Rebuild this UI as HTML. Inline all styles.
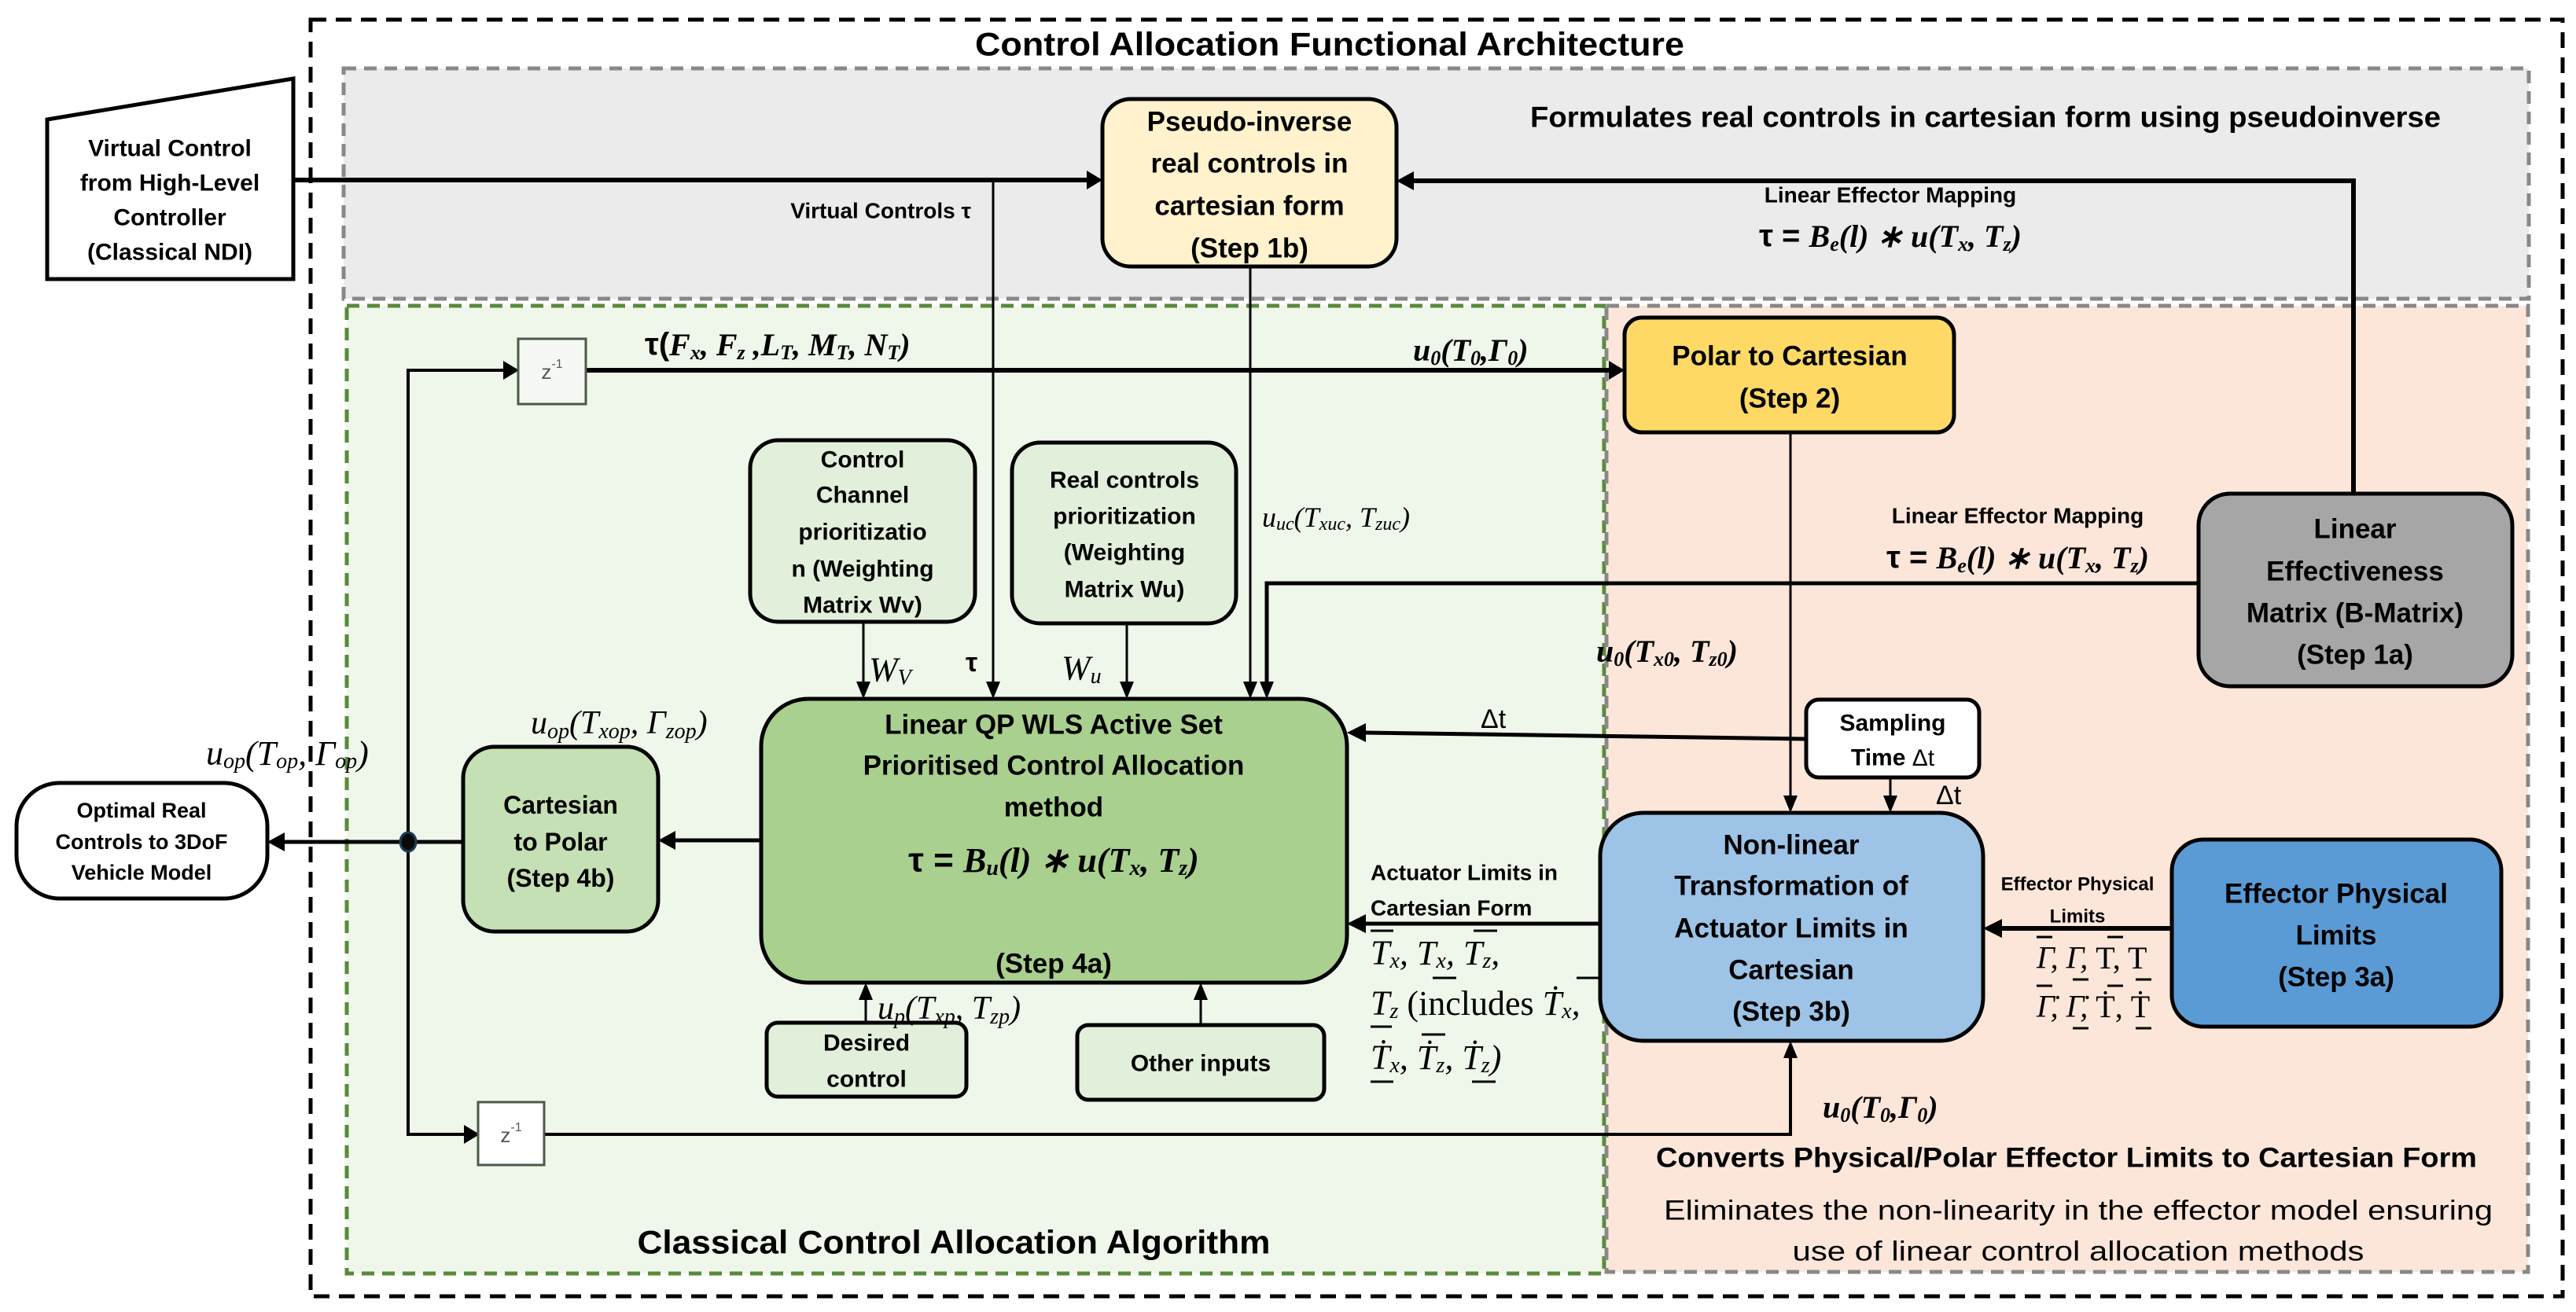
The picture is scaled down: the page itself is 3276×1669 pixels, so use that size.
<!DOCTYPE html>
<html><head><meta charset="utf-8"><style>
html,body{margin:0;padding:0;background:#fff;}
svg{display:block;}
.b{font-family:"Liberation Sans",sans-serif;font-weight:bold;fill:#000;}
.n{font-family:"Liberation Sans",sans-serif;fill:#000;}
.m{font-family:"Liberation Serif",serif;font-style:italic;fill:#000;}
.mb{font-family:"Liberation Serif",serif;font-style:italic;font-weight:bold;fill:#000;}
</style></head><body>
<svg width="3276" height="1669" viewBox="0 0 3276 1669" xmlns="http://www.w3.org/2000/svg">
<style>
.ar{fill:#000;}
</style>
<!-- regions -->
<rect x="437" y="87" width="2779" height="293" fill="#ebebeb" stroke="#888" stroke-width="5" stroke-dasharray="16,10"/>
<rect x="441" y="389" width="1599" height="1231" fill="#eff6ea" stroke="#5a8a3a" stroke-width="5" stroke-dasharray="16,10"/>
<rect x="2043" y="389" width="1172" height="1229" fill="#fce6da" stroke="#888" stroke-width="5" stroke-dasharray="16,10"/>
<rect x="395" y="25" width="2864" height="1624" fill="none" stroke="#000" stroke-width="5" stroke-dasharray="20,12"/>

<text class="b" x="1691" y="56" font-size="42" text-anchor="middle" dominant-baseline="central" textLength="902" lengthAdjust="spacingAndGlyphs">Control Allocation Functional Architecture</text>
<text class="b" x="2525" y="149" font-size="37" text-anchor="middle" dominant-baseline="central" textLength="1158" lengthAdjust="spacingAndGlyphs">Formulates real controls in cartesian form using pseudoinverse</text>

<polygon points="60,152 373,100 373,355 60,355" fill="#fff" stroke="#000" stroke-width="5"/>
<g class="b" font-size="30" text-anchor="middle" dominant-baseline="central">
<text x="216" y="189">Virtual Control</text>
<text x="216" y="233">from High-Level</text>
<text x="216" y="277">Controller</text>
<text x="216" y="321">(Classical NDI)</text>
</g>

<g stroke="#000" fill="none">
<line x1="373" y1="229" x2="1385" y2="229" stroke-width="6"/>
<line x1="1263" y1="229" x2="1263" y2="870" stroke-width="3"/>
<line x1="1590" y1="339" x2="1590" y2="870" stroke-width="3"/>
<polyline points="2993,628 2993,230 1795,230" stroke-width="6"/>
<polyline points="2796,742 1611,742 1611,870" stroke-width="5"/>
<line x1="745" y1="471" x2="2050" y2="471" stroke-width="6"/>
<polyline points="640,471 519,471 519,1443 590,1443" stroke-width="4"/>
<polyline points="692,1443 2277,1443 2277,1345" stroke-width="4"/>
<line x1="2277" y1="550" x2="2277" y2="1015" stroke-width="3"/>
<line x1="2404" y1="989" x2="2404" y2="1015" stroke-width="3"/>
<line x1="2297" y1="940" x2="1735" y2="932" stroke-width="5"/>
<line x1="2035" y1="1175" x2="1735" y2="1175" stroke-width="5"/>
<line x1="2762" y1="1181" x2="2545" y2="1181" stroke-width="6"/>
<line x1="1098" y1="791" x2="1098" y2="870" stroke-width="3"/>
<line x1="1433" y1="793" x2="1433" y2="870" stroke-width="3"/>
<line x1="1101" y1="1301" x2="1101" y2="1270" stroke-width="3"/>
<line x1="1527" y1="1304" x2="1527" y2="1270" stroke-width="3"/>
<line x1="968" y1="1069" x2="857" y2="1069" stroke-width="5"/>
<line x1="589" y1="1071" x2="360" y2="1071" stroke-width="5"/>
</g>
<g class="ar">
<polygon points="1402,229 1382,217 1382,241"/>
<polygon points="1776,230 1798,218 1798,242"/>
<polygon points="2066,471 2046,459 2046,483"/>
<polygon points="660,471 640,459 640,483"/>
<polygon points="610,1443 590,1431 590,1455"/>
<polygon points="1263,889 1254,867 1272,867"/>
<polygon points="1590,889 1581,867 1599,867"/>
<polygon points="1611,889 1602,867 1620,867"/>
<polygon points="1098,889 1089,867 1107,867"/>
<polygon points="1433,889 1424,867 1442,867"/>
<polygon points="1101,1250 1092,1272 1110,1272"/>
<polygon points="1527,1250 1518,1272 1536,1272"/>
<polygon points="2277,1034 2268,1012 2286,1012"/>
<polygon points="2404,1034 2395,1012 2413,1012"/>
<polygon points="2277,1324 2268,1346 2286,1346"/>
<polygon points="1713,932 1737,920 1737,944"/>
<polygon points="1713,1175 1737,1163 1737,1187"/>
<polygon points="2522,1181 2546,1169 2546,1193"/>
<polygon points="837,1069 859,1057 859,1081"/>
<polygon points="340,1071 362,1059 362,1083"/>
</g>
<ellipse cx="519" cy="1071" rx="10" ry="12" fill="#0a0a0a" stroke="#1f3d5a" stroke-width="3"/>

<rect x="659" y="431" width="86" height="83" fill="#f6f8f4" stroke="#4a5a44" stroke-width="3"/>
<text class="n" x="702" y="473" font-size="26" text-anchor="middle" dominant-baseline="central" style="fill:#555">z<tspan font-size="16" dy="-10">-1</tspan></text>
<rect x="608" y="1402" width="84" height="80" fill="#fff" stroke="#4a5a44" stroke-width="3"/>
<text class="n" x="650" y="1444" font-size="26" text-anchor="middle" dominant-baseline="central" style="fill:#555">z<tspan font-size="16" dy="-10">-1</tspan></text>

<rect x="1402" y="126" width="374" height="213" rx="36" fill="#fff2cc" stroke="#000" stroke-width="5"/>
<g class="b" font-size="35" text-anchor="middle" dominant-baseline="central">
<text x="1589" y="155">Pseudo-inverse</text>
<text x="1589" y="208">real controls in</text>
<text x="1589" y="262">cartesian form</text>
<text x="1589" y="316">(Step 1b)</text>
</g>
<rect x="2066" y="404" width="419" height="146" rx="22" fill="#ffd966" stroke="#000" stroke-width="5"/>
<g class="b" font-size="35" text-anchor="middle" dominant-baseline="central">
<text x="2276" y="453">Polar to Cartesian</text>
<text x="2276" y="507">(Step 2)</text>
</g>
<rect x="2796" y="628" width="399" height="245" rx="40" fill="#a6a6a6" stroke="#000" stroke-width="5"/>
<g class="b" font-size="35" text-anchor="middle" dominant-baseline="central">
<text x="2995" y="673">Linear</text>
<text x="2995" y="727">Effectiveness</text>
<text x="2995" y="780">Matrix (B-Matrix)</text>
<text x="2995" y="833">(Step 1a)</text>
</g>
<rect x="954" y="560" width="286" height="231" rx="36" fill="#e2efda" stroke="#000" stroke-width="5"/>
<g class="b" font-size="30" text-anchor="middle" dominant-baseline="central">
<text x="1097" y="585">Control</text>
<text x="1097" y="630">Channel</text>
<text x="1097" y="677">prioritizatio</text>
<text x="1097" y="724">n (Weighting</text>
<text x="1097" y="770">Matrix Wv)</text>
</g>
<rect x="1287" y="563" width="285" height="230" rx="36" fill="#e2efda" stroke="#000" stroke-width="5"/>
<g class="b" font-size="30" text-anchor="middle" dominant-baseline="central">
<text x="1430" y="611">Real controls</text>
<text x="1430" y="657">prioritization</text>
<text x="1430" y="703">(Weighting</text>
<text x="1430" y="750">Matrix Wu)</text>
</g>
<rect x="968" y="889" width="745" height="361" rx="60" fill="#a9d08e" stroke="#000" stroke-width="5"/>
<g class="b" font-size="35" text-anchor="middle" dominant-baseline="central">
<text x="1340" y="922">Linear QP WLS Active Set</text>
<text x="1340" y="974">Prioritised Control Allocation</text>
<text x="1340" y="1027">method</text>
<text x="1340" y="1226">(Step 4a)</text>
</g>
<text x="1340" y="1094" font-size="44" text-anchor="middle" dominant-baseline="central" class="b">τ = <tspan class="mb">B<tspan font-size="28" dy="10">u</tspan><tspan dy="-10">(l) ∗ u(T</tspan><tspan font-size="28" dy="10">x</tspan><tspan dy="-10">, T</tspan><tspan font-size="28" dy="10">z</tspan><tspan dy="-10">)</tspan></tspan></text>
<rect x="589" y="950" width="248" height="235" rx="40" fill="#c5e0b4" stroke="#000" stroke-width="5"/>
<g class="b" font-size="32" text-anchor="middle" dominant-baseline="central">
<text x="713" y="1024">Cartesian</text>
<text x="713" y="1071">to Polar</text>
<text x="713" y="1117">(Step 4b)</text>
</g>
<rect x="21" y="996" width="319" height="147" rx="55" fill="#fff" stroke="#000" stroke-width="5"/>
<g class="b" font-size="27" text-anchor="middle" dominant-baseline="central">
<text x="180" y="1031">Optimal Real</text>
<text x="180" y="1071">Controls to 3DoF</text>
<text x="180" y="1110">Vehicle Model</text>
</g>
<rect x="975" y="1301" width="254" height="94" rx="14" fill="#e2efda" stroke="#000" stroke-width="5"/>
<g class="b" font-size="30" text-anchor="middle" dominant-baseline="central">
<text x="1102" y="1327">Desired</text>
<text x="1102" y="1373">control</text>
</g>
<rect x="1370" y="1304" width="314" height="95" rx="14" fill="#e2efda" stroke="#000" stroke-width="5"/>
<text class="b" x="1527" y="1353" font-size="30" text-anchor="middle" dominant-baseline="central">Other inputs</text>
<rect x="2297" y="890" width="220" height="99" rx="16" fill="#fff" stroke="#000" stroke-width="5"/>
<g class="b" font-size="30" text-anchor="middle" dominant-baseline="central">
<text x="2407" y="920">Sampling</text>
<text x="2407" y="964">Time <tspan class="n" font-weight="normal">Δt</tspan></text>
</g>
<rect x="2035" y="1034" width="487" height="290" rx="55" fill="#9dc3e6" stroke="#000" stroke-width="5"/>
<g class="b" font-size="35" text-anchor="middle" dominant-baseline="central">
<text x="2278" y="1075">Non-linear</text>
<text x="2278" y="1127">Transformation of</text>
<text x="2278" y="1181">Actuator Limits in</text>
<text x="2278" y="1234">Cartesian</text>
<text x="2278" y="1287">(Step 3b)</text>
</g>
<rect x="2762" y="1068" width="419" height="238" rx="40" fill="#5b9bd5" stroke="#000" stroke-width="5"/>
<g class="b" font-size="35" text-anchor="middle" dominant-baseline="central">
<text x="2971" y="1137">Effector Physical</text>
<text x="2971" y="1190">Limits</text>
<text x="2971" y="1243">(Step 3a)</text>
</g>

<g class="b" font-size="28" dominant-baseline="central">
<text x="1235" y="268" text-anchor="end">Virtual Controls τ</text>
<text x="2404" y="248" text-anchor="middle">Linear Effector Mapping</text>
<text x="2566" y="656" text-anchor="middle">Linear Effector Mapping</text>
<text x="1743" y="1110">Actuator Limits in</text>
<text x="1743" y="1155">Cartesian Form</text>
<text x="2642" y="1125" text-anchor="middle" font-size="24">Effector Physical</text>
<text x="2642" y="1166" text-anchor="middle" font-size="24">Limits</text>
</g>
<g font-size="40" dominant-baseline="central">
<text x="2404" y="300" text-anchor="middle" class="b">τ = <tspan class="mb">B<tspan font-size="26" dy="10">e</tspan><tspan dy="-10">(l) ∗ u(T</tspan><tspan font-size="26" dy="10">x</tspan><tspan dy="-10">, T</tspan><tspan font-size="26" dy="10">z</tspan><tspan dy="-10">)</tspan></tspan></text>
<text x="2566" y="709" text-anchor="middle" class="b">τ = <tspan class="mb">B<tspan font-size="26" dy="10">e</tspan><tspan dy="-10">(l) ∗ u(T</tspan><tspan font-size="26" dy="10">x</tspan><tspan dy="-10">, T</tspan><tspan font-size="26" dy="10">z</tspan><tspan dy="-10">)</tspan></tspan></text>
<text x="820" y="438" class="b">τ(<tspan class="mb">F<tspan font-size="26" dy="10">x</tspan><tspan dy="-10">, F</tspan><tspan font-size="26" dy="10">z</tspan><tspan dy="-10"> ,L</tspan><tspan font-size="26" dy="10">T</tspan><tspan dy="-10">, M</tspan><tspan font-size="26" dy="10">T</tspan><tspan dy="-10">, N</tspan><tspan font-size="26" dy="10">T</tspan><tspan dy="-10">)</tspan></tspan></text>
<text x="1797" y="445" class="mb">u<tspan font-size="26" dy="10">0</tspan><tspan dy="-10">(T</tspan><tspan font-size="26" dy="10">0</tspan><tspan dy="-10">,Γ</tspan><tspan font-size="26" dy="10">0</tspan><tspan dy="-10">)</tspan></text>
<text x="2318" y="1408" class="mb">u<tspan font-size="26" dy="10">0</tspan><tspan dy="-10">(T</tspan><tspan font-size="26" dy="10">0</tspan><tspan dy="-10">,Γ</tspan><tspan font-size="26" dy="10">0</tspan><tspan dy="-10">)</tspan></text>
<text x="2030" y="828" class="mb">u<tspan font-size="26" dy="10">0</tspan><tspan dy="-10">(T</tspan><tspan font-size="26" dy="10">x0</tspan><tspan dy="-10">, T</tspan><tspan font-size="26" dy="10">z0</tspan><tspan dy="-10">)</tspan></text>
<text x="1605" y="658" class="m" font-size="36">u<tspan font-size="24" dy="9">uc</tspan><tspan dy="-9">(T</tspan><tspan font-size="24" dy="9">xuc</tspan><tspan dy="-9">, T</tspan><tspan font-size="24" dy="9">zuc</tspan><tspan dy="-9">)</tspan></text>
<text x="262" y="958" class="m" font-size="44">u<tspan font-size="28" dy="10">op</tspan><tspan dy="-10">(T</tspan><tspan font-size="28" dy="10">op</tspan><tspan dy="-10">, Γ</tspan><tspan font-size="28" dy="10">op</tspan><tspan dy="-10">)</tspan></text>
<text x="675" y="920" class="m" font-size="42">u<tspan font-size="28" dy="10">op</tspan><tspan dy="-10">(T</tspan><tspan font-size="28" dy="10">xop</tspan><tspan dy="-10">, Γ</tspan><tspan font-size="28" dy="10">zop</tspan><tspan dy="-10">)</tspan></text>
<text x="1116" y="1283" class="m" font-size="42">u<tspan font-size="28" dy="10">p</tspan><tspan dy="-10">(T</tspan><tspan font-size="28" dy="10">xp</tspan><tspan dy="-10">, T</tspan><tspan font-size="28" dy="10">zp</tspan><tspan dy="-10">)</tspan></text>
<text x="1105" y="852" class="m" font-size="44">W<tspan font-size="28" dy="10">V</tspan></text>
<text x="1228" y="843" class="b" font-size="34">τ</text>
<text x="1350" y="850" class="m" font-size="44">W<tspan font-size="28" dy="10">u</tspan></text>
<text x="1883" y="915" class="n" font-size="34">Δt</text>
<text x="2462" y="1012" class="n" font-size="34">Δt</text>
<text x="1743" y="1212" class="m" font-size="44">T<tspan font-size="28" dy="10">x</tspan><tspan dy="-10">, T</tspan><tspan font-size="28" dy="10">x</tspan><tspan dy="-10">, T</tspan><tspan font-size="28" dy="10">z</tspan><tspan dy="-10">,</tspan></text>
<text x="1743" y="1276" class="m" font-size="44">T<tspan font-size="28" dy="10">z</tspan><tspan dy="-10" font-style="normal"> (includes </tspan><tspan>Ṫ</tspan><tspan font-size="28" dy="10">x</tspan><tspan dy="-10">,</tspan></text>
<text x="1743" y="1345" class="m" font-size="44">Ṫ<tspan font-size="28" dy="10">x</tspan><tspan dy="-10">, Ṫ</tspan><tspan font-size="28" dy="10">z</tspan><tspan dy="-10">, Ṫ</tspan><tspan font-size="28" dy="10">z</tspan><tspan dy="-10">)</tspan></text>
<text x="2590" y="1218" class="m">Γ, Γ, <tspan font-style="normal">T, T</tspan></text>
<text x="2590" y="1280" class="m">Γ̇, Γ̇, <tspan font-style="normal">Ṫ, Ṫ</tspan></text>
</g>
<g stroke="#000" stroke-width="3">
<line x1="1743" y1="1184" x2="1772" y2="1184"/><line x1="1822" y1="1244" x2="1852" y2="1244"/><line x1="1874" y1="1184" x2="1904" y2="1184"/>
<line x1="1743" y1="1306" x2="1770" y2="1306"/><line x1="2005" y1="1244" x2="2035" y2="1244"/>
<line x1="1743" y1="1376" x2="1772" y2="1376"/><line x1="1808" y1="1316" x2="1838" y2="1316"/><line x1="1872" y1="1376" x2="1902" y2="1376"/>
<line x1="2590" y1="1192" x2="2610" y2="1192"/><line x1="2636" y1="1246" x2="2656" y2="1246"/><line x1="2680" y1="1192" x2="2700" y2="1192"/><line x1="2716" y1="1246" x2="2736" y2="1246"/>
<line x1="2590" y1="1254" x2="2610" y2="1254"/><line x1="2636" y1="1308" x2="2656" y2="1308"/><line x1="2680" y1="1254" x2="2700" y2="1254"/><line x1="2716" y1="1308" x2="2736" y2="1308"/>
</g>

<text class="b" x="2628" y="1473" font-size="35" text-anchor="middle" dominant-baseline="central" textLength="1044" lengthAdjust="spacingAndGlyphs">Converts Physical/Polar Effector Limits to Cartesian Form</text>
<text class="n" x="2643" y="1540" font-size="35" text-anchor="middle" dominant-baseline="central" textLength="1054" lengthAdjust="spacingAndGlyphs">Eliminates the non-linearity in the effector model ensuring</text>
<text class="n" x="2643" y="1592" font-size="35" text-anchor="middle" dominant-baseline="central" textLength="727" lengthAdjust="spacingAndGlyphs">use of  linear control allocation methods</text>
<text class="b" x="1213" y="1580" font-size="42" text-anchor="middle" dominant-baseline="central" textLength="805" lengthAdjust="spacingAndGlyphs">Classical Control Allocation Algorithm</text>
</svg>
</body></html>
